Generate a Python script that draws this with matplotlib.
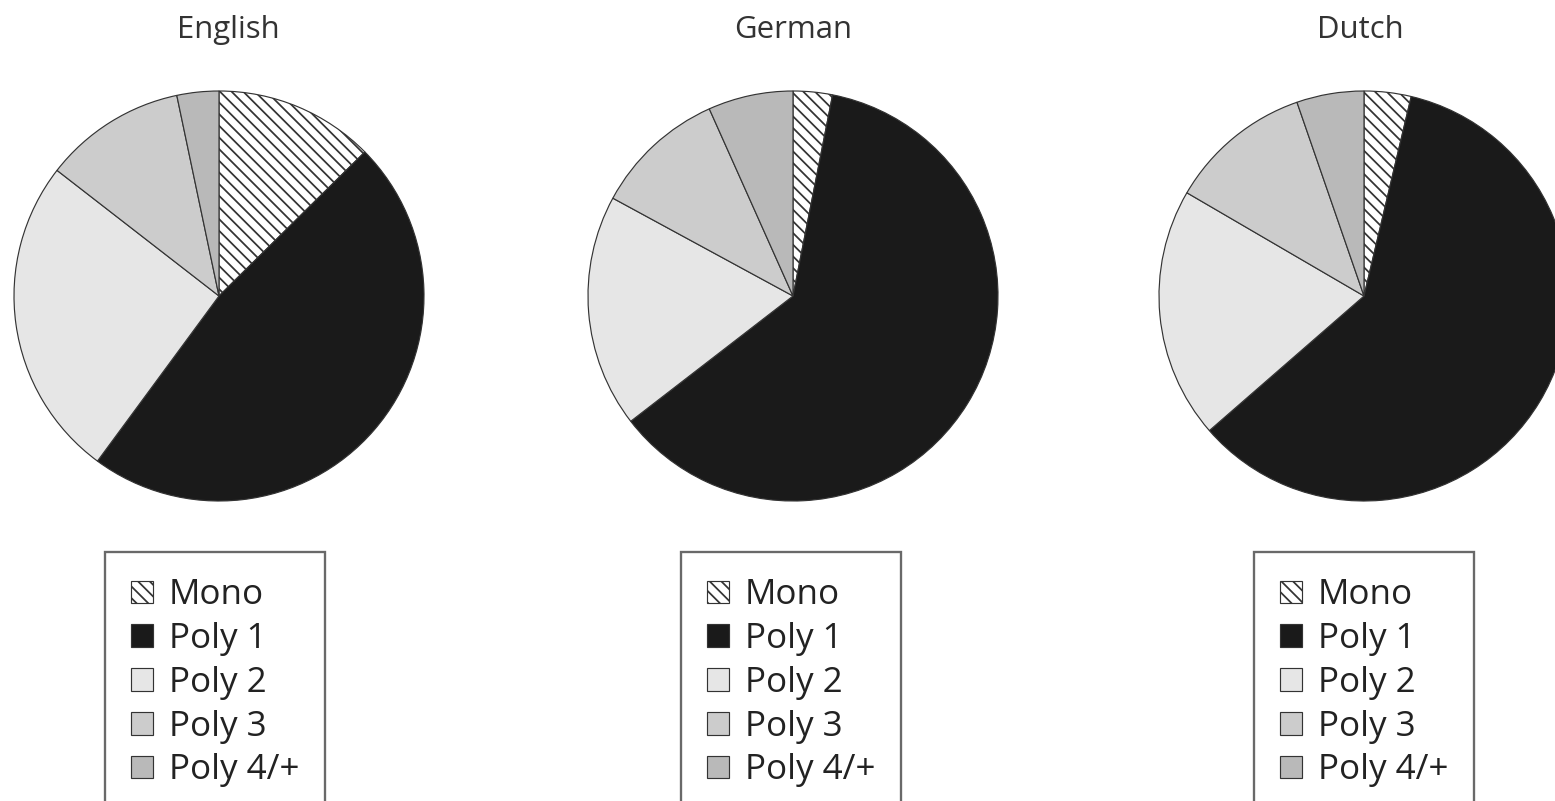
import matplotlib
matplotlib.use("Agg")
import matplotlib.pyplot as plt

# data (shares in %, clockwise from 12 o'clock)
categories = ["Mono", "Poly 1", "Poly 2", "Poly 3", "Poly 4/+"]
languages = ["English", "German", "Dutch"]
english = [12.6, 47.5, 25.4, 11.2, 3.3]
german = [3.1, 61.5, 18.4, 10.4, 6.7]
dutch = [3.7, 59.9, 19.8, 11.3, 5.3]

colors = ["white", "#1a1a1a", "#e6e6e6", "#cccccc", "#b9b9b9"]
hatches = ["\\\\\\\\", "", "", "", ""]

plt.rcParams["font.family"] = ["Open Sans", "DejaVu Sans"]
plt.rcParams["hatch.linewidth"] = 0.9

DPI = 140
W, H = 1555, 801
fig = plt.figure(figsize=(W / DPI, H / DPI), dpi=DPI)

R = 205  # pie radius in px
centers_x = [219, 793, 1364]
title_x = [228, 793, 1360]
center_y = 296
legend_left = [105, 681, 1254]

for lang, vals, cx, tx, lx in zip(languages, [english, german, dutch],
                                  centers_x, title_x, legend_left):
    ax = fig.add_axes([(cx - R) / W, (H - center_y - R) / H, 2 * R / W, 2 * R / H])
    wedges, _ = ax.pie(vals, colors=colors, startangle=90, counterclock=False,
                       radius=1.0,
                       wedgeprops=dict(edgecolor="#333333", linewidth=0.6))
    for w, h in zip(wedges, hatches):
        w.set_hatch(h)
    ax.set_xlim(-1.0, 1.0)
    ax.set_ylim(-1.0, 1.0)
    ax.set_aspect("equal")
    ax.axis("off")

    fig.text(tx / W, 1 - 30 / H, lang, ha="center", va="center",
             fontsize=16, color="#333333")

    leg = fig.legend(wedges, categories, loc="upper left",
                     bbox_to_anchor=(lx / W, 1 - 552 / H),
                     fontsize=18, frameon=True, fancybox=False,
                     edgecolor="#444444", borderpad=0.75,
                     handlelength=0.62, handleheight=0.62,
                     handletextpad=0.45, labelspacing=0.28,
                     borderaxespad=0)
    leg.get_frame().set_linewidth(1.2)
    for t in leg.get_texts():
        t.set_color("#222222")

fig.savefig("out.png", dpi=DPI)
